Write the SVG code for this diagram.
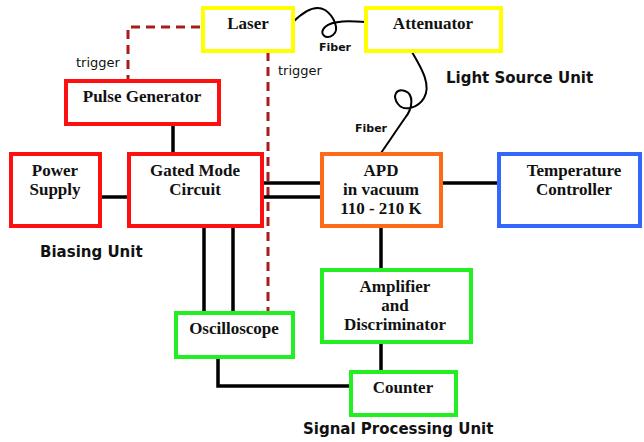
<svg xmlns="http://www.w3.org/2000/svg" width="644" height="442" viewBox="0 0 644 442">
<style>
.box{fill:#fff;stroke-width:4}
.red{stroke:#ff1010}
.yel{stroke:#ffff00}
.org{stroke:#ff6a18}
.blu{stroke:#3366ff}
.grn{stroke:#22ee22}
.lbl{font-family:"Liberation Serif","Times New Roman",serif;font-weight:bold;font-size:17px;fill:#111;text-anchor:middle}
.unit{font-family:"DejaVu Sans",Verdana,sans-serif;font-weight:bold;font-size:15px;fill:#111}
.small{font-family:"DejaVu Sans",Verdana,sans-serif;font-weight:bold;font-size:11px;fill:#111}
.trig{font-family:"DejaVu Sans",Verdana,sans-serif;font-size:13px;fill:#111}
.wire{stroke:#000;stroke-width:3.5;fill:none}
.dash{stroke:#a81c1c;stroke-width:3;fill:none;stroke-dasharray:9,6}
.fiber{stroke:#000;stroke-width:2;fill:none}
</style>
<rect width="644" height="442" fill="#fff"/>
<g id="connectors">
<path class="dash" d="M200,27 H128 V80"/>
<path class="dash" d="M268,52 V313"/>
<line class="wire" x1="173" y1="124" x2="173" y2="153"/>
<line class="wire" x1="100" y1="197" x2="129" y2="197"/>
<line class="wire" x1="262" y1="183" x2="322" y2="183"/>
<line class="wire" x1="262" y1="197" x2="322" y2="197"/>
<line class="wire" x1="204" y1="226" x2="204" y2="313"/>
<line class="wire" x1="233" y1="226" x2="233" y2="313"/>
<line class="wire" x1="441" y1="183" x2="499" y2="183"/>
<line class="wire" x1="381" y1="226" x2="381" y2="270"/>
<line class="wire" x1="381" y1="342" x2="381" y2="372"/>
<path class="wire" d="M218,357 V386 H351"/>
<path class="fiber" d="M293,22 C303,12 315,4 325,10 C334,16 340,30 333,35 C326,40 318,34 325,27 C333,20 350,21 366,22"/>
<path class="fiber" d="M412,52 C420,66 432,84 424,98 C418,108 404,112 398,104 C392,96 396,88 405,91 C414,94 413,108 405,118 C398,128 390,140 381,153"/>
</g>
<g id="laser"><rect class="box yel" x="203" y="8" width="90" height="43"/><text class="lbl" x="248" y="29">Laser</text></g>
<g id="attenuator"><rect class="box yel" x="366" y="8" width="135" height="43"/><text class="lbl" x="433" y="29">Attenuator</text></g>
<g id="pulse-generator"><rect class="box red" x="66" y="81" width="153" height="43"/><text class="lbl" x="142" y="102">Pulse Generator</text></g>
<g id="power-supply"><rect class="box red" x="11" y="154" width="89" height="72"/><text class="lbl" x="55" y="176">Power</text><text class="lbl" x="55" y="195">Supply</text></g>
<g id="gated-mode-circuit"><rect class="box red" x="129" y="154" width="133" height="72"/><text class="lbl" x="195" y="176">Gated Mode</text><text class="lbl" x="195" y="195">Circuit</text></g>
<g id="apd"><rect class="box org" x="322" y="154" width="119" height="72"/><text class="lbl" x="381" y="176">APD</text><text class="lbl" x="381" y="195">in vacuum</text><text class="lbl" x="381" y="214">110 - 210 K</text></g>
<g id="temperature-controller"><rect class="box blu" x="499" y="154" width="141" height="72"/><text class="lbl" x="574" y="176">Temperature</text><text class="lbl" x="574" y="195">Controller</text></g>
<g id="amplifier"><rect class="box grn" x="322" y="270" width="149" height="72"/><text class="lbl" x="395" y="292">Amplifier</text><text class="lbl" x="395" y="311">and</text><text class="lbl" x="395" y="330">Discriminator</text></g>
<g id="oscilloscope"><rect class="box grn" x="176" y="313" width="117" height="44"/><text class="lbl" x="234" y="334">Oscilloscope</text></g>
<g id="counter"><rect class="box grn" x="351" y="372" width="105" height="43"/><text class="lbl" x="403" y="393">Counter</text></g>
<text class="trig" x="76" y="67">trigger</text>
<text class="trig" x="278" y="75">trigger</text>
<text class="small" x="319" y="51">Fiber</text>
<text class="small" x="355" y="132">Fiber</text>
<text class="unit" x="446" y="83">Light Source Unit</text>
<text class="unit" x="40" y="257">Biasing Unit</text>
<text class="unit" x="303" y="434">Signal Processing Unit</text>
</svg>
